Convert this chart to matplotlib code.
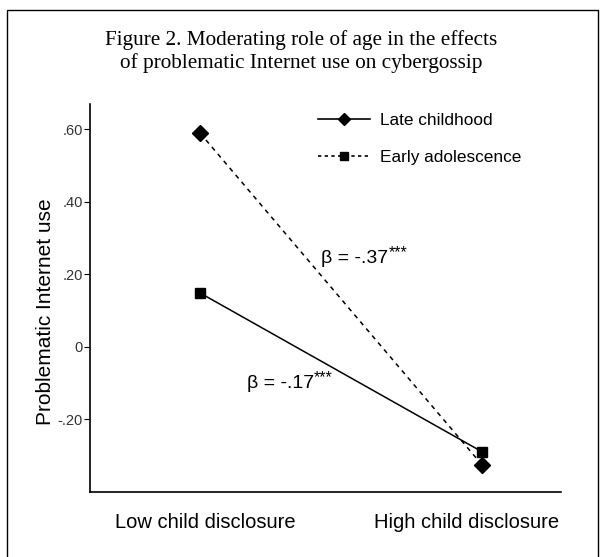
import matplotlib.pyplot as plt
from matplotlib.patches import Rectangle

plt.rcParams['font.family'] = ['Liberation Sans', 'DejaVu Sans']

groups = ['Low child disclosure', 'High child disclosure']
late_childhood = [0.59, -0.325]
early_adolescence = [0.149, -0.289]
yticks = [-0.20, 0, 0.20, 0.40, 0.60]
yticklabels = ['-.20', '0', '.20', '.40', '.60']
xpos = [0, 1]
label_pos = [0.02, 0.947]

fig = plt.figure(figsize=(6.03, 5.57), dpi=100)
ax = fig.add_axes([90 / 603, 1 - 492 / 557, (561 - 90) / 603, (492 - 104) / 557])

# frame round the whole figure
fig.patches.append(Rectangle((7 / 603, -0.05), 591 / 603, 1 - 10 / 557 + 0.05,
                             transform=fig.transFigure, fill=False,
                             edgecolor='black', linewidth=1.0))

fig.text(0.5, 1 - 40 / 557, 'Figure 2. Moderating role of age in the effects',
         ha='center', va='center', fontsize=15.3, family='Liberation Serif')
fig.text(0.5, 1 - 63 / 557, 'of problematic Internet use on cybergossip',
         ha='center', va='center', fontsize=15.3, family='Liberation Serif')

ax.plot(xpos, late_childhood, linestyle=(0, (3, 3)), color='black', lw=1.1,
        marker='D', markersize=8.5, label='_nolegend_')
ax.plot(xpos, early_adolescence, linestyle='-', color='black', lw=1.1,
        marker='s', markersize=7, label='_nolegend_')

# legend as printed in the original (solid+diamond, dashed+square)
ax.plot([], [], '-', color='black', lw=1.2, marker='D', markersize=6, label='Late childhood')
ax.plot([], [], linestyle=(0, (2, 2)), color='black', lw=1.2, marker='s', markersize=6,
        label='Early adolescence')
fig.legend(*ax.get_legend_handles_labels(), loc='upper left',
           bbox_to_anchor=(318 / 603, 1 - 113 / 557), frameon=False, fontsize=12.4,
           handlelength=3.0, handletextpad=0.6, labelspacing=1.25,
           borderpad=0, borderaxespad=0)

t1 = ax.text(0.43, 0.245, 'β = -.37', fontsize=14, ha='left', va='center')
ax.annotate('***', xy=(1, 0.8), xycoords=t1, fontsize=11.5, ha='left', va='center')
t2 = ax.text(0.167, -0.10, 'β = -.17', fontsize=14, ha='left', va='center')
ax.annotate('***', xy=(1, 0.8), xycoords=t2, fontsize=11.5, ha='left', va='center')

ax.set_xlim(-110 / 282, 1 + 79 / 282)
ax.set_ylim(-0.40, 0.67)
ax.set_xticks(label_pos)
ax.set_xticklabels(groups, fontsize=14.5)
ax.tick_params(axis='x', length=0, pad=15)
ax.set_yticks(yticks)
ax.set_yticklabels(yticklabels, fontsize=10.5, color='#333333')
ax.tick_params(axis='y', length=4, width=0.8, direction='out', pad=1)
ax.set_ylabel('Problematic Internet use', fontsize=15)
ax.yaxis.set_label_coords(-0.074, 0.466)

for s in ['top', 'right']:
    ax.spines[s].set_visible(False)
for s in ['left', 'bottom']:
    ax.spines[s].set_linewidth(1.2)

fig.savefig('out.png', dpi=100)
